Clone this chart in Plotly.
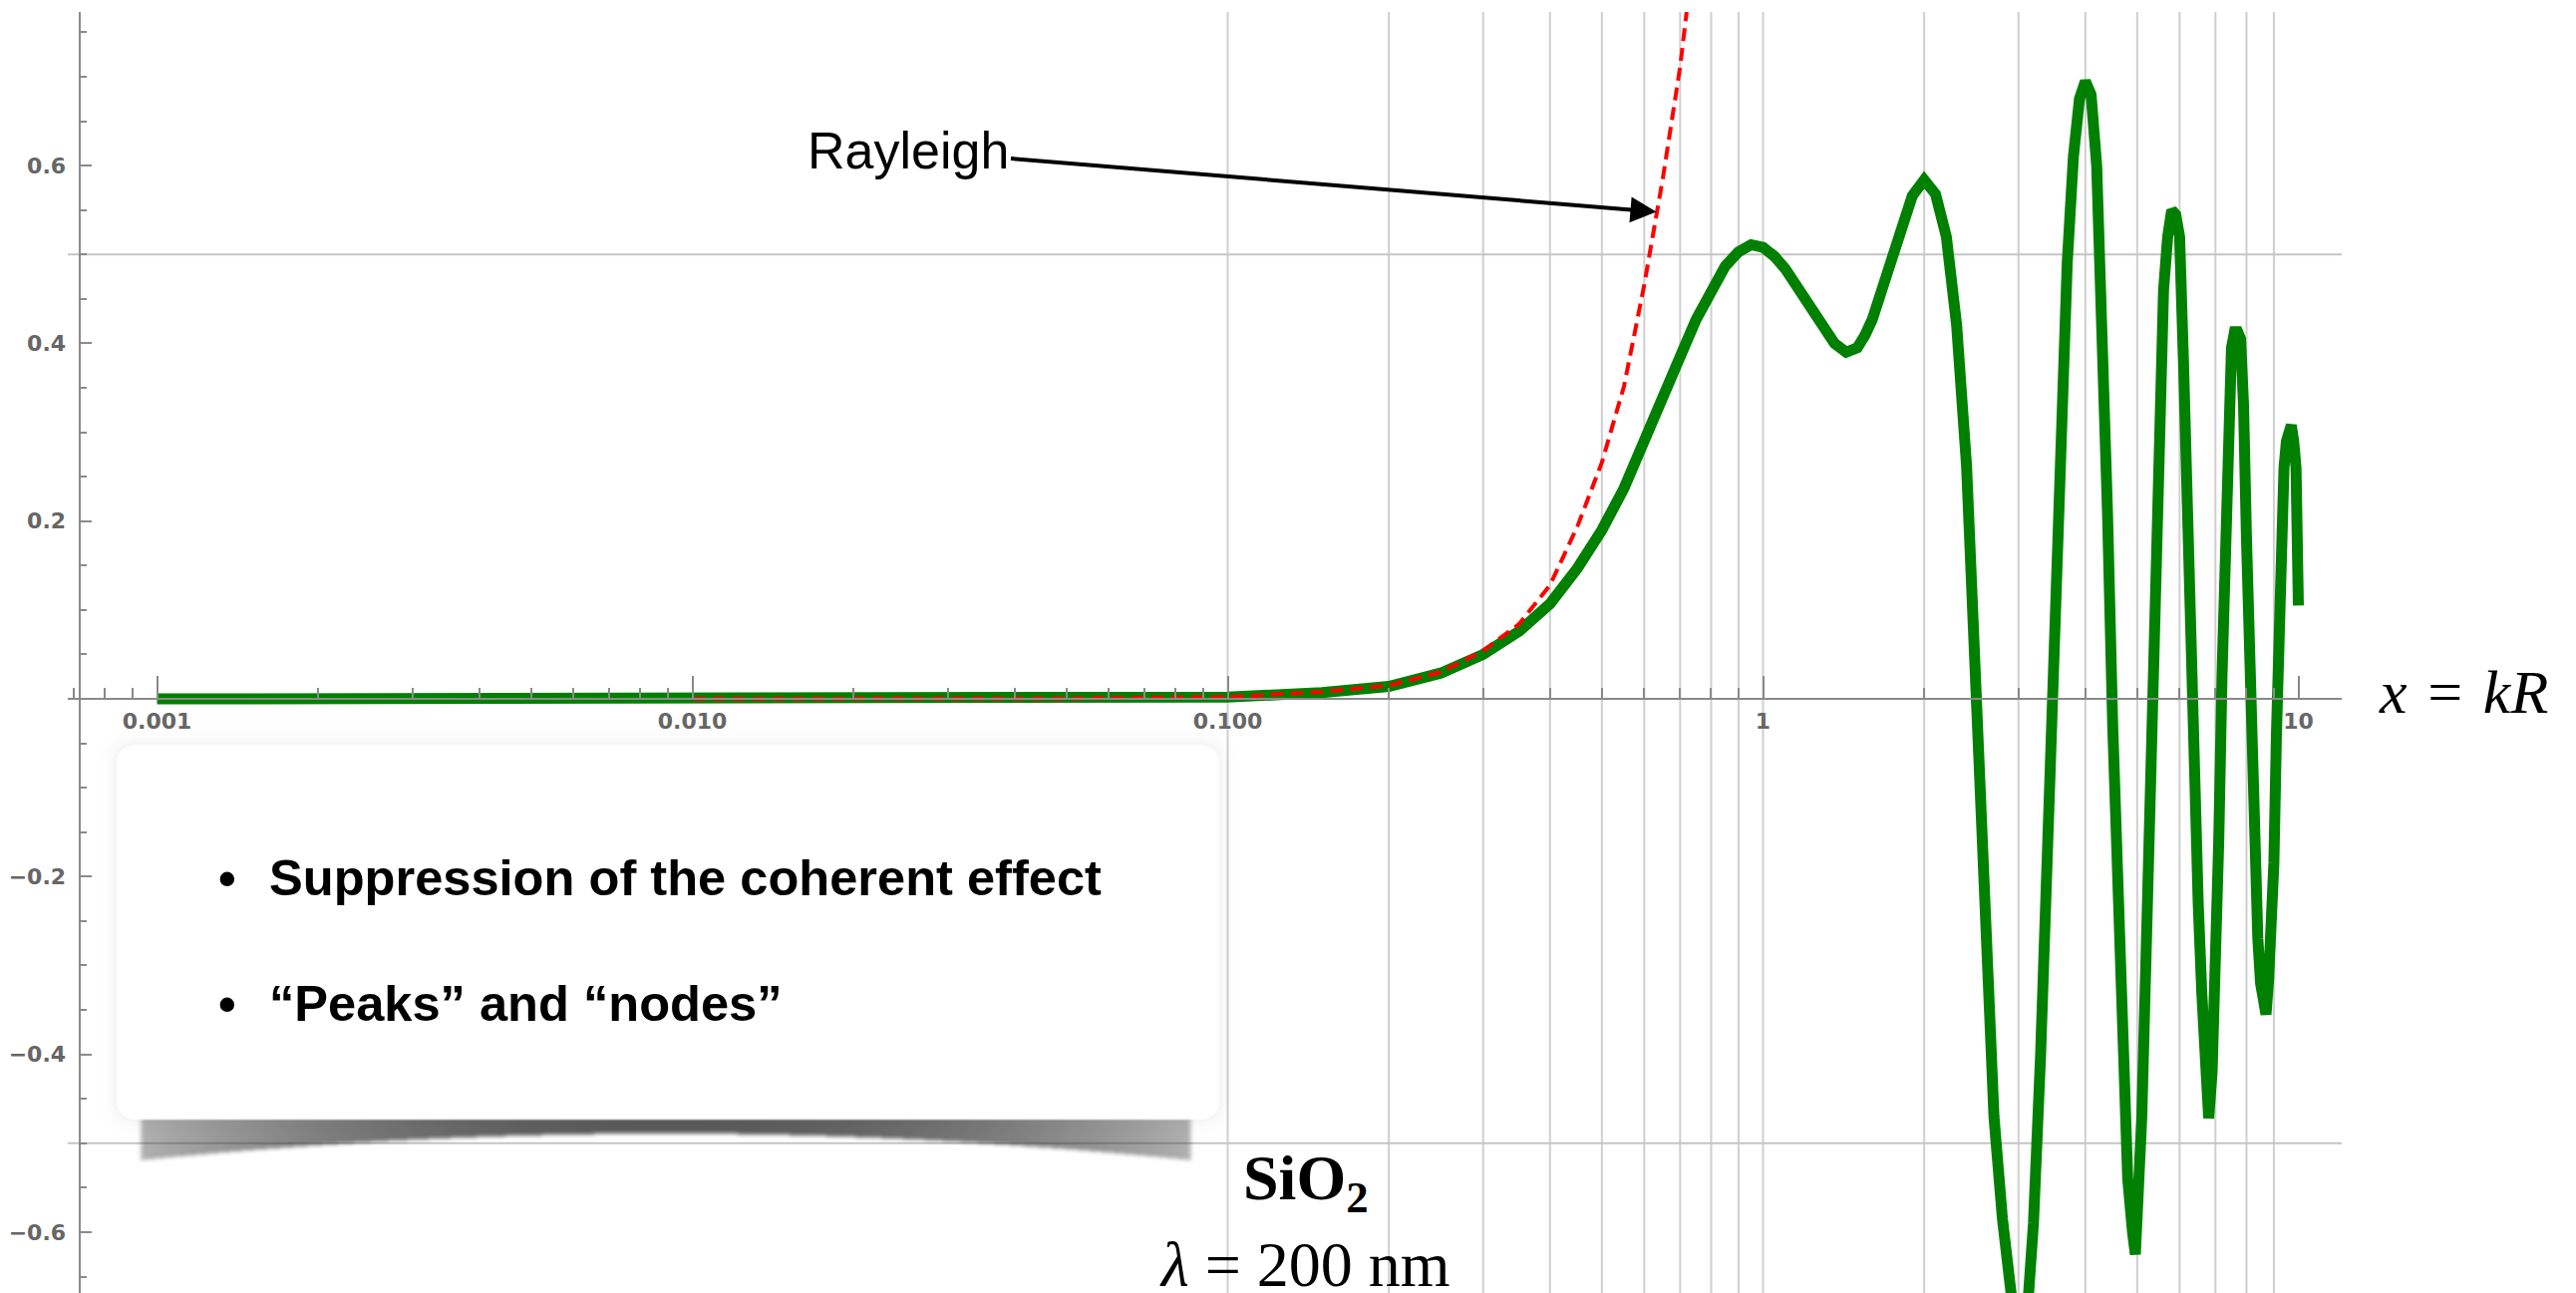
import base64
import struct
import zlib

import numpy as np
import plotly.graph_objects as go

# ---------------------------------------------------------------- data
# coherent form factor of a SiO2 sphere versus size parameter x = kR
kr = [0.001, 0.002, 0.005, 0.01, 0.02, 0.05, 0.1, 0.15, 0.2, 0.25,
      0.3, 0.35, 0.4, 0.45, 0.5, 0.55, 0.6, 0.65, 0.7, 0.75,
      0.8, 0.85, 0.9, 0.95, 1.0, 1.05, 1.1, 1.2, 1.3, 1.36,
      1.43, 1.5, 1.55, 1.6, 1.7, 1.8, 1.9, 2.0, 2.1, 2.2, 2.3, 2.4,
      2.5, 2.6, 2.7, 2.8, 2.9, 3.0, 3.1, 3.2, 3.3, 3.4,
      3.5, 3.6, 3.7, 3.8, 3.9, 4.0, 4.1, 4.2, 4.3, 4.4,
      4.5, 4.6, 4.7, 4.8, 4.9, 4.96, 5.1, 5.2, 5.3, 5.4,
      5.5, 5.6, 5.7, 5.8, 5.9, 6.0, 6.1, 6.2, 6.3, 6.4,
      6.5, 6.6, 6.7, 6.8, 6.9, 7.0, 7.1, 7.2, 7.3, 7.4,
      7.5, 7.6, 7.7, 7.8, 7.9, 8.0, 8.1, 8.2, 8.3, 8.4,
      8.5, 8.6, 8.7, 8.8, 8.9, 9.0, 9.1, 9.2, 9.3, 9.4,
      9.5, 9.6, 9.7, 9.8, 9.9, 10.0]
coherent = [0.0, 0.0, 0.0, 0.0, 0.0, 0.0004, 0.002, 0.007, 0.014, 0.029,
            0.05, 0.076, 0.107, 0.147, 0.19, 0.237, 0.288, 0.338, 0.385, 0.427,
            0.461, 0.487, 0.503, 0.511, 0.508, 0.498, 0.484, 0.451, 0.416, 0.400,
            0.390, 0.395, 0.409, 0.427, 0.476, 0.527, 0.566, 0.584, 0.568, 0.52, 0.42, 0.262,
            0.01, -0.266, -0.47, -0.585, -0.68, -0.74, -0.71, -0.59, -0.4, -0.15,
            0.09, 0.335, 0.49, 0.61, 0.675, 0.695, 0.68, 0.6, 0.44, 0.21,
            -0.03, -0.23, -0.41, -0.54, -0.6, -0.625, -0.47, -0.27, -0.025, 0.16,
            0.33, 0.46, 0.52, 0.55, 0.545, 0.52, 0.38, 0.21, 0.02, -0.11,
            -0.23, -0.33, -0.42, -0.472, -0.42, -0.31, -0.16, 0.025, 0.2, 0.345,
            0.395, 0.413, 0.413, 0.405, 0.33, 0.18, 0.03, -0.12, -0.2, -0.27,
            -0.32, -0.35, -0.355, -0.315, -0.27, -0.185, -0.04, 0.09, 0.2, 0.26,
            0.29, 0.305, 0.308, 0.29, 0.26, 0.105]

# small-particle (Rayleigh) limit
rayleigh_kr = [0.01, 0.02, 0.05, 0.1, 0.15, 0.2, 0.25, 0.3, 0.35, 0.4,
               0.45, 0.5, 0.55, 0.6, 0.65, 0.7, 0.72]
rayleigh = [0.0, 0.0, 0.0004, 0.002, 0.008, 0.015, 0.03, 0.054, 0.084, 0.128,
            0.194, 0.266, 0.352, 0.466, 0.586, 0.711, 0.773]

# axis ticks and grid
x_major = [0.001, 0.01, 0.1, 1, 10]
x_major_text = ["0.001", "0.010", "0.100", "1", "10"]
x_minor = [0.0007, 0.0008, 0.0009] + [m * 10.0 ** k for k in range(-3, 1) for m in range(2, 10)]
x_grid = [m * 10.0 ** k for k in (-1, 0) for m in range(1, 10)]
y_major = [-0.6, -0.4, -0.2, 0.2, 0.4, 0.6]
y_major_text = ["\u22120.6", "\u22120.4", "\u22120.2", "0.2", "0.4", "0.6"]
y_grid = [-0.5, 0.5]

# ---------------------------------------------------------------- geometry
W, H = 2584, 1297
M_L, M_R, M_T, M_B = 68, 235, 12, 0
PW, PH = W - M_L - M_R, H - M_T - M_B
X_RANGE = [-3.1667, 1.0810]
Y_RANGE = [-0.6685, 0.7729]


def fx(px):
    return (px - M_L) / PW


def fy(py):
    return (H - M_B - py) / PH


# ---------------------------------------------------------------- note card image
def png_uri(rgba):
    h, w, _ = rgba.shape
    raw = b"".join(b"\x00" + rgba[i].tobytes() for i in range(h))

    def chunk(tag, data):
        body = tag + data
        return struct.pack(">I", len(data)) + body + struct.pack(">I", zlib.crc32(body) & 0xFFFFFFFF)

    png = (b"\x89PNG\r\n\x1a\n"
           + chunk(b"IHDR", struct.pack(">IIBBBBB", w, h, 8, 6, 0, 0, 0))
           + chunk(b"IDAT", zlib.compress(raw, 9))
           + chunk(b"IEND", b""))
    return "data:image/png;base64," + base64.b64encode(png).decode()


def box_blur(a, r, axis):
    pad = [(0, 0), (0, 0)]
    pad[axis] = (r + 1, r)
    p = np.pad(a, pad, mode="edge")
    c = np.cumsum(p, axis=axis)
    n = 2 * r + 1
    if axis == 0:
        return (c[n:] - c[:-n]) / n
    return (c[:, n:] - c[:, :-n]) / n


def blur(a, r):
    for _ in range(2):
        a = box_blur(box_blur(a, r, 0), r, 1)
    return a


def round_rect_dist(xx, yy, x1, x2, y1, y2, r):
    dx = np.maximum(np.maximum(x1 + r - xx, xx - (x2 - r)), 0)
    dy = np.maximum(np.maximum(y1 + r - yy, yy - (y2 - r)), 0)
    return np.sqrt(dx ** 2 + dy ** 2) - r


CX0, CY0, CW, CH = 96, 728, 1152, 462
xx, yy = np.meshgrid(np.arange(CW) + CX0 + 0.5, np.arange(CH) + CY0 + 0.5)

card = dict(x1=117, x2=1223, y1=747, y2=1123, r=18)
dist = round_rect_dist(xx, yy, card["x1"], card["x2"], card["y1"], card["y2"], card["r"])
white_a = np.clip(0.5 - dist / 2.0, 0, 1)
halo_a = 0.07 * np.exp(-np.maximum(dist, 0) / 7.0) * (dist > -4)

u = (xx - 668) / 528.0
band_bottom = 1137 + 27 * u ** 2
in_x = np.clip((xx - 140) / 3.0, 0, 1) * np.clip((1196 - xx) / 3.0, 0, 1)
in_y = (yy >= 1121) & (yy <= band_bottom)
shadow_a = blur(np.where(in_y, 1.0, 0.0) * in_x * np.clip(0.8 - 0.42 * u ** 2, 0, 1), 2)
shadow_c = 48.0

a1 = shadow_a + halo_a * (1 - shadow_a)
c1 = np.where(a1 > 0, (shadow_a * shadow_c + halo_a * 90.0 * (1 - shadow_a)) / np.maximum(a1, 1e-6), 0)
a2 = white_a + a1 * (1 - white_a)
c2 = np.where(a2 > 0, (white_a * 255.0 + a1 * c1 * (1 - white_a)) / np.maximum(a2, 1e-6), 255)
rgba = np.zeros((CH, CW, 4), dtype=np.uint8)
rgba[..., 0] = rgba[..., 1] = rgba[..., 2] = np.clip(c2, 0, 255).astype(np.uint8)
rgba[..., 3] = np.clip(a2 * 255, 0, 255).astype(np.uint8)
card_uri = png_uri(rgba)

# ---------------------------------------------------------------- figure
AXIS_GRAY = "#8a8a8a"
GRID_GRAY = "#cfcfcf"
tick_font = dict(family="DejaVu Sans", size=22, color="#666666", weight=700)
note_font = dict(family="Liberation Sans", size=50.6, color="black", weight=700)

fig = go.Figure()
fig.add_trace(go.Scatter(x=kr, y=coherent, mode="lines",
                         line=dict(color="#008000", width=11),
                         hoverinfo="skip", showlegend=False))
fig.add_trace(go.Scatter(x=rayleigh_kr, y=rayleigh, mode="lines",
                         line=dict(color="#ff0000", width=4, dash="13px,7px"),
                         hoverinfo="skip", showlegend=False))

shapes = []
for gx in x_grid:
    shapes.append(dict(type="line", xref="x", yref="paper", x0=gx, x1=gx, y0=0, y1=1,
                       line=dict(color=GRID_GRAY, width=2), layer="below"))
for gy in y_grid:
    shapes.append(dict(type="line", xref="paper", yref="y", x0=0, x1=1, y0=gy, y1=gy,
                       line=dict(color="#c4c4c4", width=2), layer="below"))

annotations = [
    dict(x=np.log10(0.632), y=0.548, xref="x", yref="y", text="Rayleigh",
         showarrow=True, axref="pixel", ayref="pixel", ax=-750, ay=-62,
         arrowhead=2, arrowsize=1.3, arrowwidth=4, arrowcolor="black", standoff=0,
         font=dict(family="Liberation Sans", size=52, color="black")),
    dict(x=fx(228), y=fy(880), xref="paper", yref="paper", text="\u2022",
         showarrow=False, xanchor="center", yanchor="middle", font=note_font),
    dict(x=fx(268), y=fy(880), xref="paper", yref="paper",
         text="Suppression of the coherent effect",
         showarrow=False, xanchor="left", yanchor="middle", font=note_font),
    dict(x=fx(228), y=fy(1006), xref="paper", yref="paper", text="\u2022",
         showarrow=False, xanchor="center", yanchor="middle", font=note_font),
    dict(x=fx(268), y=fy(1006), xref="paper", yref="paper",
         text="\u201cPeaks\u201d and \u201cnodes\u201d",
         showarrow=False, xanchor="left", yanchor="middle", font=note_font),
    dict(x=fx(1310), y=fy(1186), xref="paper", yref="paper",
         text="SiO<sub>2</sub>", showarrow=False, xanchor="center", yanchor="middle",
         font=dict(family="Liberation Serif", size=64, color="black", weight=700)),
    dict(x=fx(1309), y=fy(1268), xref="paper", yref="paper",
         text="<i>\u03bb</i> = 200 nm", showarrow=False, xanchor="center", yanchor="middle",
         font=dict(family="Liberation Serif", size=64, color="black")),
    dict(x=fx(2471), y=fy(694), xref="paper", yref="paper",
         text="<i>x</i>\u2004=\u2004<i>kR</i>", showarrow=False, xanchor="center", yanchor="middle",
         font=dict(family="Liberation Serif", size=62, color="black")),
]

fig.update_layout(
    width=W, height=H,
    margin=dict(l=M_L, r=M_R, t=M_T, b=M_B, autoexpand=False),
    paper_bgcolor="white", plot_bgcolor="white",
    showlegend=False,
    xaxis=dict(type="log", range=X_RANGE, anchor="free",
               position=(0 - Y_RANGE[0]) / (Y_RANGE[1] - Y_RANGE[0]),
               showline=True, linecolor=AXIS_GRAY, linewidth=2,
               showgrid=False, zeroline=False,
               tickmode="array", tickvals=x_major, ticktext=x_major_text,
               ticks="inside", ticklen=22, tickwidth=1.5, tickcolor=AXIS_GRAY,
               tickfont=tick_font, ticklabelstandoff=3,
               minor=dict(tickmode="array", tickvals=x_minor, ticks="inside",
                          ticklen=10, tickwidth=1.5, tickcolor=AXIS_GRAY, showgrid=False)),
    yaxis=dict(range=Y_RANGE, anchor="free", position=fx(79.5),
               showline=True, linecolor=AXIS_GRAY, linewidth=2,
               showgrid=False, zeroline=False,
               tickmode="array", tickvals=y_major, ticktext=y_major_text,
               ticks="inside", ticklen=11, tickwidth=1.5, tickcolor=AXIS_GRAY,
               tickfont=tick_font, ticklabelstandoff=8,
               minor=dict(dtick=0.05, tick0=0, ticks="inside", ticklen=6,
                          tickwidth=1.5, tickcolor=AXIS_GRAY, showgrid=False)),
    shapes=shapes,
    annotations=annotations,
    images=[dict(source=card_uri, xref="paper", yref="paper",
                 x=fx(CX0), y=fy(CY0), sizex=CW / PW, sizey=CH / PH,
                 xanchor="left", yanchor="top", sizing="stretch", layer="above")],
)

fig.write_html("out.html")
